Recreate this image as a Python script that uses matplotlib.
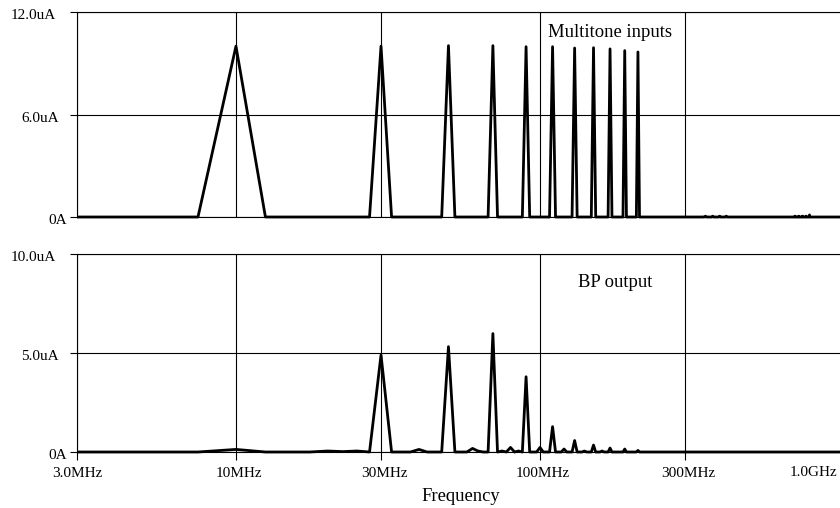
"""Multitone input spectrum and band-pass output spectrum (PSpice style FFT plot)."""

import numpy as np
import matplotlib

matplotlib.use("Agg")
from matplotlib import pyplot as plt
from matplotlib.transforms import Bbox, ScaledTranslation, TransformedBbox

plt.rcParams["font.family"] = ["Liberation Serif", "DejaVu Serif"]

# FFT grid: 2.5 MHz bins up to 1 GHz
BIN_MHZ = 2.5
freq_mhz = np.arange(BIN_MHZ, 1000 + BIN_MHZ, BIN_MHZ)

# multitone input, amplitudes in uA
tone_mhz = [10, 30, 50, 70, 90, 110, 130, 150, 170, 190, 210]
tone_ua = [10.0, 10.0, 10.03, 10.03, 9.97, 9.97, 9.89, 9.91, 9.84, 9.74, 9.66]
input_spur_mhz = [350, 370, 390, 410, 690, 710, 730, 750, 770]
input_spur_ua = [0.05, 0.05, 0.05, 0.05, 0.05, 0.05, 0.05, 0.05, 0.12]

# band-pass output, amplitudes in uA
output_mhz = [10, 20, 22.5, 25, 30, 40, 50, 60, 62.5, 70, 75, 80, 85, 90,
              100, 110, 120, 130, 140, 150, 160, 170, 190, 210]
output_ua = [0.13, 0.05, 0.02, 0.05, 4.9, 0.13, 5.32, 0.18, 0.05, 5.98, 0.05,
             0.23, 0.05, 3.8, 0.23, 1.28, 0.15, 0.58, 0.05, 0.35, 0.05, 0.2,
             0.15, 0.08]

x_ticks = [3e6, 10e6, 30e6, 100e6, 300e6, 1e9]
x_labels = ["3.0MHz", "10MHz", "30MHz", "100MHz", "300MHz", ""]
top_yticks = [0, 6, 12]
top_ylabels = ["0A", "6.0uA", "12.0uA"]
bot_yticks = [0, 5, 10]
bot_ylabels = ["0A", "5.0uA", "10.0uA"]

TICK_FS = 11
LABEL_FS = 13.4


def _spectrum(freqs, values):
    spec = np.zeros_like(freq_mhz)
    idx = np.rint(np.asarray(freqs) / BIN_MHZ).astype(int) - 1
    spec[idx] = values
    return spec


def _style(ax, fig, yticks, ylabels, ymax, label_shift_px):
    ax.set_xscale("log")
    ax.set_xlim(3e6, 1e9)
    ax.set_ylim(0, ymax)
    ax.set_xticks(x_ticks)
    ax.minorticks_off()
    ax.set_yticks(yticks)
    ax.set_yticklabels(ylabels)
    ax.grid(True, color="black", lw=0.8)
    for side in ("left", "top", "bottom"):
        ax.spines[side].set_linewidth(0.8)
    ax.spines["right"].set_visible(False)
    ax.tick_params(axis="y", direction="out", length=5, width=0.8, pad=2.4,
                   labelsize=TICK_FS)
    for lab, dx in zip(ax.get_yticklabels(), label_shift_px):
        lab.set_transform(lab.get_transform()
                          + ScaledTranslation(-dx / fig.dpi, -2 / fig.dpi,
                                              fig.dpi_scale_trans))


def _plot_trace(ax, x, y):
    (line,) = ax.plot(x, y, color="black", lw=2.0, zorder=3)
    # clip only left/right so the zero line keeps its full width
    line.set_clip_box(TransformedBbox(Bbox([[0, -0.05], [1, 1.05]]),
                                      ax.transAxes))


fig = plt.figure(figsize=(8.4, 5.08), dpi=100)
ax_in = fig.add_axes([77 / 840, 1 - 217 / 508, 767 / 840, 205 / 508])
ax_out = fig.add_axes([77 / 840, 1 - 452 / 508, 767 / 840, 198 / 508])

f_hz = freq_mhz * 1e6
input_spec = _spectrum(tone_mhz + input_spur_mhz, tone_ua + input_spur_ua)
output_spec = _spectrum(output_mhz, output_ua)

_plot_trace(ax_in, f_hz, input_spec)
_plot_trace(ax_out, f_hz, output_spec)

_style(ax_in, fig, top_yticks, top_ylabels, 12, [0, 8, 10.7])
_style(ax_out, fig, bot_yticks, bot_ylabels, 10, [0, 8, 10.7])

ax_in.tick_params(axis="x", length=0, labelbottom=False)
ax_out.set_xticklabels(x_labels)
ax_out.tick_params(axis="x", direction="out", length=6, width=0.8, pad=5,
                   labelsize=TICK_FS)
for lab in ax_out.get_xticklabels()[1:]:
    lab.set_transform(lab.get_transform()
                      + ScaledTranslation(3 / fig.dpi, 0, fig.dpi_scale_trans))
fig.text(837 / 840, 1 - 472 / 508, "1.0GHz", ha="right", va="center",
         fontsize=TICK_FS)
ax_out.set_xlabel("Frequency", fontsize=LABEL_FS, labelpad=5.5)

ax_in.text(0.614, 0.8795, "Multitone inputs", transform=ax_in.transAxes,
           fontsize=LABEL_FS, va="baseline")
ax_out.text(0.6536, 0.8333, "BP output", transform=ax_out.transAxes,
            fontsize=LABEL_FS, va="baseline")

fig.savefig("out.png", dpi=100)
